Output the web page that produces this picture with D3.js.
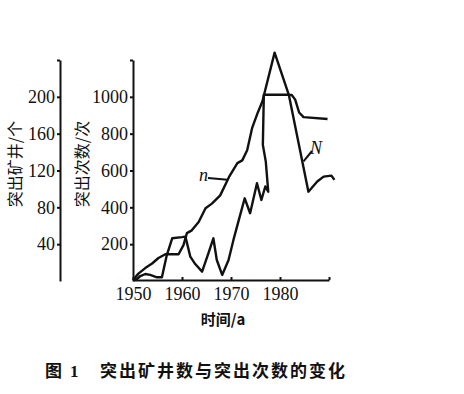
<!DOCTYPE html>
<html>
<head>
<meta charset="utf-8">
<script src="https://cdn.jsdelivr.net/npm/d3@7"></script>
<style>
  body { margin: 0; background: #fff; }
  svg text { fill: #111; }
  .num { font-family: "Liberation Serif", "DejaVu Serif", serif; font-size: 18px; }
  .cjk { font-family: "Noto Sans CJK SC", sans-serif; }
</style>
</head>
<body>
<div class="chart"></div>
<script>
// DATA ------------------------------------

// 突出矿井数 n (left outer axis, 个)
const nYears = [1950.0, 1951.1, 1952.5, 1953.9, 1955.2, 1956.6, 1957.8, 1959.3, 1960.3, 1961.0,
    1962.0, 1963.4, 1964.8, 1966.1, 1967.8, 1969.6, 1971.3, 1972.3, 1973.3, 1974.3,
    1975.4, 1976.4, 1978.9, 1981.8, 1982.4, 1983.1, 1983.9, 1984.8, 1989.7]
const nValues = [1, 8, 14, 19, 25, 29, 29, 29, 39, 52,
    55, 64, 79, 84, 93, 113, 128, 131, 142, 166,
    182, 195, 248, 202, 202, 197, 183, 178, 176]

// 突出次数 N (inner axis, 次)
const NYears = [1950.0, 1950.8, 1951.5, 1952.5, 1953.5, 1954.9, 1955.9, 1956.9, 1958.0, 1960.0,
    1960.7, 1961.7, 1962.7, 1964.1, 1965.4, 1966.4, 1967.1, 1968.2, 1969.5, 1970.5,
    1971.6, 1972.8, 1973.9, 1975.3, 1976.2, 1977.0, 1977.6, 1977.1, 1976.5, 1976.7,
    1981.8, 1985.8, 1987.6, 1988.9, 1990.5, 1991.1]
const NValues = [5, 11, 27, 38, 33, 20, 20, 141, 232, 238,
    241, 132, 92, 51, 151, 232, 114, 33, 114, 223,
    332, 449, 368, 531, 440, 513, 485, 648, 739, 1011,
    1011, 485, 540, 567, 572, 549]

const xTicks = [1950, 1960, 1970, 1980, 1990]
const nTicks = [40, 80, 120, 160, 200, 240]
const NTicks = [200, 400, 600, 800, 1000, 1200]

// CHART INIT ------------------------------
const width = 464
const height = 394

const svg = d3.select(".chart").append("svg")
        .attr("width", width)
        .attr("height", height)

const xScale = d3.scaleLinear()
    .domain([1950, 1990])
    .range([133, 329])

const nScale = d3.scaleLinear()
    .domain([0, 240])
    .range([281, 60])

const NScale = d3.scaleLinear()
    .domain([0, 1200])
    .range([281, 60])

// axes
const xAx = d3.axisBottom(xScale)
    .tickValues(xTicks)
    .tickSize(-3)
    .tickSizeOuter(0)
    .tickPadding(7)
    .tickFormat(d => d === 1990 ? "" : d)

const nAx = d3.axisLeft(nScale)
    .tickValues(nTicks)
    .tickSize(3)
    .tickSizeOuter(0)
    .tickPadding(2)
    .tickFormat(d => d === 240 ? "" : d)

const NAx = d3.axisLeft(NScale)
    .tickValues(NTicks)
    .tickSize(3)
    .tickSizeOuter(0)
    .tickPadding(2)
    .tickFormat(d => d === 1200 ? "" : d)

const styleAxis = g => {
    g.select(".domain").attr("stroke", "#111").attr("stroke-width", 2)
    g.selectAll(".tick line").attr("stroke", "#111").attr("stroke-width", 2)
    g.selectAll(".tick text")
        .attr("class", "num")
        .attr("fill", "#111")
    g.attr("font-family", null).attr("font-size", null)
}

svg.append("g")
        .attr("transform", "translate(0, 280)")
        .call(xAx)
        .call(styleAxis)

svg.append("g")
        .attr("transform", "translate(60, 0)")
        .call(nAx)
        .call(styleAxis)

svg.append("g")
        .attr("transform", "translate(133, 0)")
        .call(NAx)
        .call(styleAxis)

// axis titles
svg.append("text")
        .attr("class", "cjk")
        .attr("transform", "translate(21, 164) rotate(-90)")
        .attr("text-anchor", "middle")
        .style("font-size", "16px")
        .text("突出矿井/个")

svg.append("text")
        .attr("class", "cjk")
        .attr("transform", "translate(88, 164) rotate(-90)")
        .attr("text-anchor", "middle")
        .style("font-size", "16px")
        .text("突出次数/次")

svg.append("text")
        .attr("class", "cjk")
        .attr("x", 223)
        .attr("y", 325)
        .attr("text-anchor", "middle")
        .style("font-size", "15px")
        .style("font-weight", "bold")
        .text("时间/a")

// LINES -----------------------------------
const nData = nYears.map((y, i) => ({year: y, value: nValues[i]}))
const NData = NYears.map((y, i) => ({year: y, value: NValues[i]}))

svg.append("path")
        .datum(nData)
        .attr("fill", "none")
        .attr("stroke", "#111")
        .attr("stroke-width", 2.4)
        .attr("stroke-linejoin", "round")
        .attr("d", d3.line().x(d => xScale(d.year)).y(d => nScale(d.value)))

svg.append("path")
        .datum(NData)
        .attr("fill", "none")
        .attr("stroke", "#111")
        .attr("stroke-width", 2.4)
        .attr("stroke-linejoin", "round")
        .attr("d", d3.line().x(d => xScale(d.year)).y(d => NScale(d.value)))

// series labels with leaders
svg.append("text")
        .attr("class", "num")
        .attr("x", 199)
        .attr("y", 181)
        .style("font-style", "italic")
        .style("font-size", "18px")
        .text("n")
svg.append("line")
        .attr("x1", 208).attr("y1", 178)
        .attr("x2", xScale(1969.3)).attr("y2", nScale(110))
        .attr("stroke", "#111").attr("stroke-width", 2)

svg.append("text")
        .attr("class", "num")
        .attr("x", 310)
        .attr("y", 154)
        .style("font-style", "italic")
        .style("font-size", "18px")
        .text("N")
svg.append("line")
        .attr("x1", 312).attr("y1", 151)
        .attr("x2", xScale(1984.8)).attr("y2", NScale(650))
        .attr("stroke", "#111").attr("stroke-width", 2)

// CAPTION ---------------------------------
svg.append("text")
        .attr("class", "cjk")
        .attr("x", 45)
        .attr("y", 377)
        .style("font-size", "17px")
        .style("font-weight", "bold")
        .text("图")
svg.append("text")
        .attr("class", "num")
        .attr("x", 70)
        .attr("y", 377)
        .style("font-size", "17px")
        .style("font-weight", "bold")
        .text("1")
svg.append("text")
        .attr("class", "cjk")
        .attr("x", 100)
        .attr("y", 377)
        .style("font-size", "17px")
        .style("font-weight", "bold")
        .style("letter-spacing", "2px")
        .text("突出矿井数与突出次数的变化")
</script>
</body>
</html>
